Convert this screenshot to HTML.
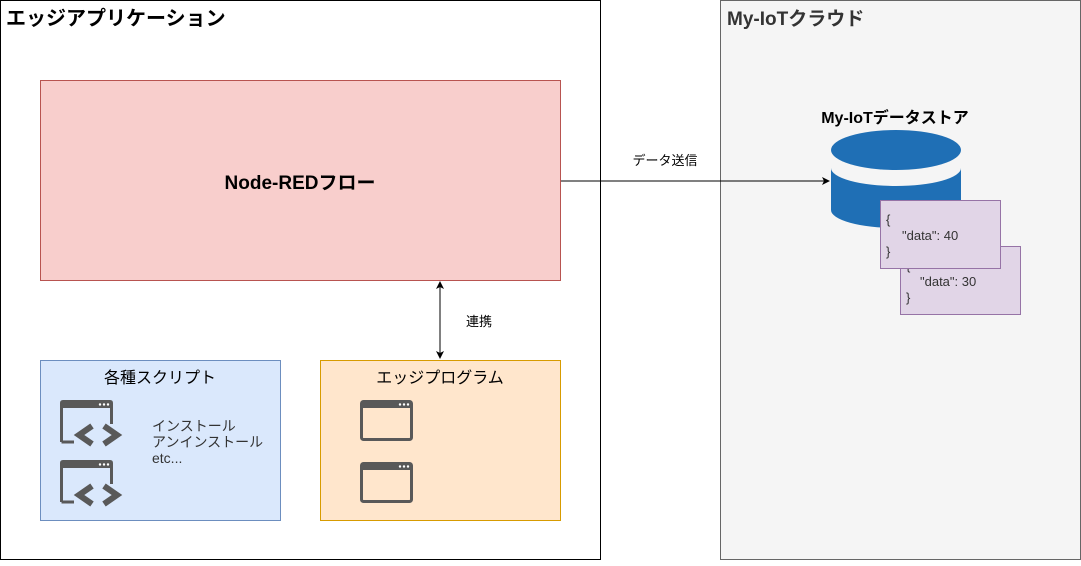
<!DOCTYPE html>
<html><head><meta charset="utf-8"><style>
body{margin:0;background:#fff}
svg text{font-family:"Liberation Sans","Noto Sans CJK JP",sans-serif}
</style></head><body>
<svg width="1081" height="561" viewBox="0 0 1081 561" xmlns="http://www.w3.org/2000/svg">
<defs>
<marker id="a" markerWidth="8" markerHeight="8" refX="7" refY="4" orient="auto-start-reverse" markerUnits="userSpaceOnUse"><path d="M0,0 L8,4 L0,8 L2,4 Z" fill="#000"/></marker>
<g id="win"><rect x="1.5" y="1.5" width="50" height="38" rx="2" fill="none" stroke="#595959" stroke-width="3"/><rect x="1" y="1" width="51" height="7" fill="#595959"/><circle cx="40" cy="4.5" r="1.2" fill="#fff"/><circle cx="44" cy="4.5" r="1.2" fill="#fff"/><circle cx="48" cy="4.5" r="1.2" fill="#fff"/></g>
<g id="scr"><path d="M1.5,42 V3 Q1.5,1.5 3,1.5 H50 Q51.5,1.5 51.5,3 V24" fill="none" stroke="#595959" stroke-width="3"/><rect x="1" y="1" width="51" height="7" fill="#595959"/><circle cx="40" cy="4.5" r="1.2" fill="#fff"/><circle cx="44" cy="4.5" r="1.2" fill="#fff"/><circle cx="48" cy="4.5" r="1.2" fill="#fff"/><path d="M1.5,42 H14" stroke="#595959" stroke-width="3"/><path d="M32,26 L19,35 L32,44" fill="none" stroke="#595959" stroke-width="6"/><path d="M44,26 L57,35 L44,44" fill="none" stroke="#595959" stroke-width="6"/></g>
</defs>
<rect x="0.5" y="0.5" width="600" height="559" fill="#fff" stroke="#000"/>
<text x="6" y="25" font-size="20" font-weight="bold" fill="#000">エッジアプリケーション</text>
<rect x="720.5" y="0.5" width="360" height="559" fill="#f5f5f5" stroke="#666"/>
<text x="727" y="25" font-size="19" font-weight="bold" fill="#333">My-IoTクラウド</text>
<rect x="40.5" y="80.5" width="520" height="200" fill="#f8cecc" stroke="#b85450"/>
<text x="300" y="189" font-size="19" font-weight="bold" text-anchor="middle">Node-REDフロー</text>
<line x1="561" y1="181" x2="829" y2="181" stroke="#000" marker-end="url(#a)"/>
<text x="665" y="165" font-size="13" text-anchor="middle">データ送信</text>
<line x1="440" y1="282" x2="440" y2="358" stroke="#000" marker-start="url(#a)" marker-end="url(#a)"/>
<text x="466" y="326" font-size="13">連携</text>
<rect x="40.5" y="360.5" width="240" height="160" fill="#dae8fc" stroke="#6c8ebf"/>
<text x="160" y="383" font-size="16" text-anchor="middle">各種スクリプト</text>
<use href="#scr" x="60" y="400"/>
<use href="#scr" x="60" y="460"/>
<text x="152" y="431" font-size="14" fill="#333">インストール</text>
<text x="152" y="447" font-size="14" fill="#333">アンインストール</text>
<text x="152" y="463" font-size="14" fill="#333">etc...</text>
<rect x="320.5" y="360.5" width="240" height="160" fill="#ffe6cc" stroke="#d79b00"/>
<text x="440" y="383" font-size="16" text-anchor="middle">エッジプログラム</text>
<use href="#win" x="360" y="400"/>
<use href="#win" x="360" y="462"/>
<text x="895" y="123" font-size="16" font-weight="bold" text-anchor="middle">My-IoTデータストア</text>
<path d="M831,168 V210 A65,18 0 0 0 961,210 V168 A65,18 0 0 1 831,168 Z" fill="#1f6fb5"/>
<ellipse cx="896" cy="150" rx="65" ry="20" fill="#1f6fb5"/>
<rect x="900.5" y="246.5" width="120" height="68" fill="#e1d5e7" stroke="#9673a6"/>
<text x="906" y="270" font-size="13" fill="#333">{</text>
<text x="920" y="286" font-size="13" fill="#333">"data": 30</text>
<text x="906" y="302" font-size="13" fill="#333">}</text>
<rect x="880.5" y="200.5" width="120" height="68" fill="#e1d5e7" stroke="#9673a6"/>
<text x="886" y="224" font-size="13" fill="#333">{</text>
<text x="902" y="240" font-size="13" fill="#333">"data": 40</text>
<text x="886" y="256" font-size="13" fill="#333">}</text>
</svg>
</body></html>
